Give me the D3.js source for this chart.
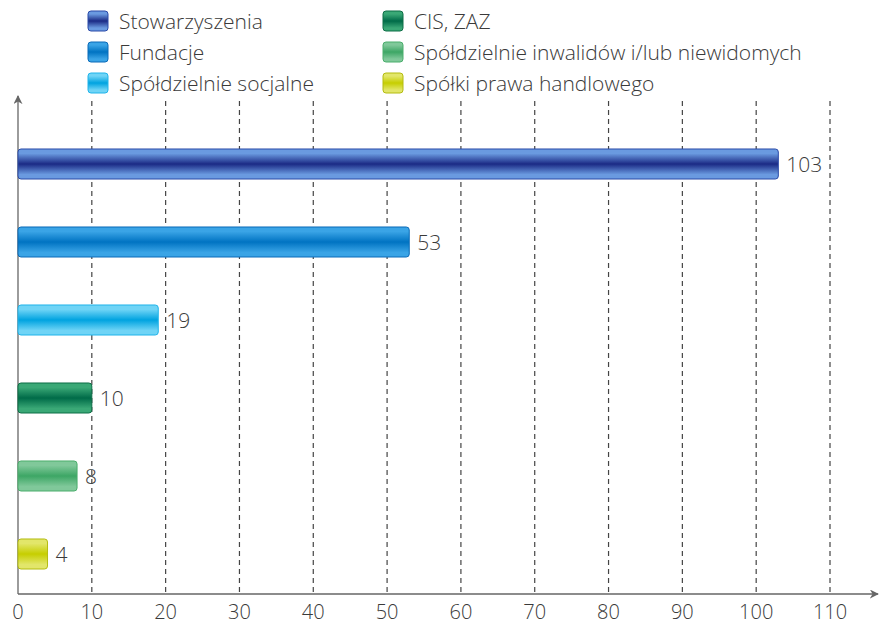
<!DOCTYPE html>
<meta charset="utf-8">
<style>
    body { margin: 0; background: #fff; }
    svg text { font-family: "Open Sans", "DejaVu Sans", sans-serif; font-weight: 300; fill: #3a3a3a; }
    .grid line { stroke: #444; stroke-dasharray: 5,4; stroke-width: 1.2; }
</style>
<svg width="879" height="631"></svg>
<script src="https://cdn.jsdelivr.net/npm/d3@7"></script>
<script>
    // dane
    var categories = ["Stowarzyszenia", "Fundacje", "Spółdzielnie socjalne", "CIS, ZAZ",
        "Spółdzielnie inwalidów i/lub niewidomych", "Spółki prawa handlowego"];
    var values = [103, 53, 19, 10, 8, 4];
    var ticks = [0, 10, 20, 30, 40, 50, 60, 70, 80, 90, 100, 110];
    // kolory: [krawędź, środek, obrys]
    var colors = [
        ["#6a9ae0", "#1b2a85", "#2a4aa8"],
        ["#3aa4e6", "#0073c2", "#0a6ab8"],
        ["#6fd4f6", "#00a3e0", "#20b4ea"],
        ["#3aa876", "#006b48", "#0d6e46"],
        ["#80c89a", "#3da665", "#4aae6c"],
        ["#e2e66a", "#c6ce00", "#b4bc10"]
    ];

    var svg = d3.select("svg");
    var x = d3.scaleLinear().domain([0, 110]).range([18, 830]);
    var y = d3.scaleBand().domain(categories).range([125, 593]).paddingInner(0.615).paddingOuter(0.3075);
    var axisY = 594;

    var defs = svg.append("defs");
    colors.forEach(function (c, i) {
        var g = defs.append("linearGradient").attr("id", "grad" + i)
            .attr("x1", 0).attr("y1", 0).attr("x2", 0).attr("y2", 1);
        g.append("stop").attr("offset", "0%").attr("stop-color", c[0]);
        g.append("stop").attr("offset", "15%").attr("stop-color", c[0]);
        g.append("stop").attr("offset", "50%").attr("stop-color", c[1]);
        g.append("stop").attr("offset", "85%").attr("stop-color", c[0]);
        g.append("stop").attr("offset", "100%").attr("stop-color", c[0]);
    });
    var marker = defs.append("marker").attr("id", "arrow")
        .attr("viewBox", "0 0 10 10").attr("refX", 9).attr("refY", 5)
        .attr("markerWidth", 9).attr("markerHeight", 9).attr("orient", "auto-start-reverse")
        .attr("markerUnits", "userSpaceOnUse");
    marker.append("path").attr("d", "M0,0 L10,5 L0,10 L3,5 z").attr("fill", "#666");

    // linie siatki
    svg.append("g").attr("class", "grid")
        .selectAll("line")
        .data(ticks.slice(1))
        .enter().append("line")
        .attr("x1", function (d) { return x(d); })
        .attr("x2", function (d) { return x(d); })
        .attr("y1", 101)
        .attr("y2", axisY);

    // osie
    svg.append("line").attr("x1", x(0)).attr("x2", x(0)).attr("y1", axisY).attr("y2", 96)
        .attr("stroke", "#666").attr("stroke-width", 1.3).attr("marker-end", "url(#arrow)");
    svg.append("line").attr("x1", x(0)).attr("x2", 878).attr("y1", axisY).attr("y2", axisY)
        .attr("stroke", "#666").attr("stroke-width", 1.3).attr("marker-end", "url(#arrow)");

    svg.append("g").selectAll("text")
        .data(ticks)
        .enter().append("text")
        .attr("x", function (d) { return x(d); })
        .attr("y", 619)
        .attr("text-anchor", "middle")
        .style("font-size", "20px")
        .text(function (d) { return d; });

    // słupki
    svg.append("g").selectAll("rect")
        .data(values)
        .enter().append("rect")
        .attr("x", x(0))
        .attr("y", function (d, i) { return y(categories[i]); })
        .attr("width", function (d) { return x(d) - x(0); })
        .attr("height", y.bandwidth())
        .attr("rx", 3).attr("ry", 3)
        .attr("fill", function (d, i) { return "url(#grad" + i + ")"; })
        .attr("stroke", function (d, i) { return colors[i][2]; })
        .attr("stroke-width", 1);

    svg.append("g").selectAll("text")
        .data(values)
        .enter().append("text")
        .attr("x", function (d) { return x(d) + 8; })
        .attr("y", function (d, i) { return y(categories[i]) + y.bandwidth() / 2; })
        .attr("dy", "0.36em")
        .style("font-size", "21px")
        .text(function (d) { return d; });

    // legenda
    var legend = svg.append("g").selectAll("g")
        .data(categories)
        .enter().append("g")
        .attr("transform", function (d, i) {
            return "translate(" + (i < 3 ? 88 : 383) + "," + (11 + (i % 3) * 31) + ")";
        });
    legend.append("rect")
        .attr("width", 20).attr("height", 20).attr("rx", 3).attr("ry", 3)
        .attr("fill", function (d, i) { return "url(#grad" + i + ")"; })
        .attr("stroke", function (d, i) { return colors[i][2]; });
    legend.append("text")
        .attr("x", 31).attr("y", 10).attr("dy", "0.36em")
        .style("font-size", "21px")
        .text(function (d) { return d; });
</script>
